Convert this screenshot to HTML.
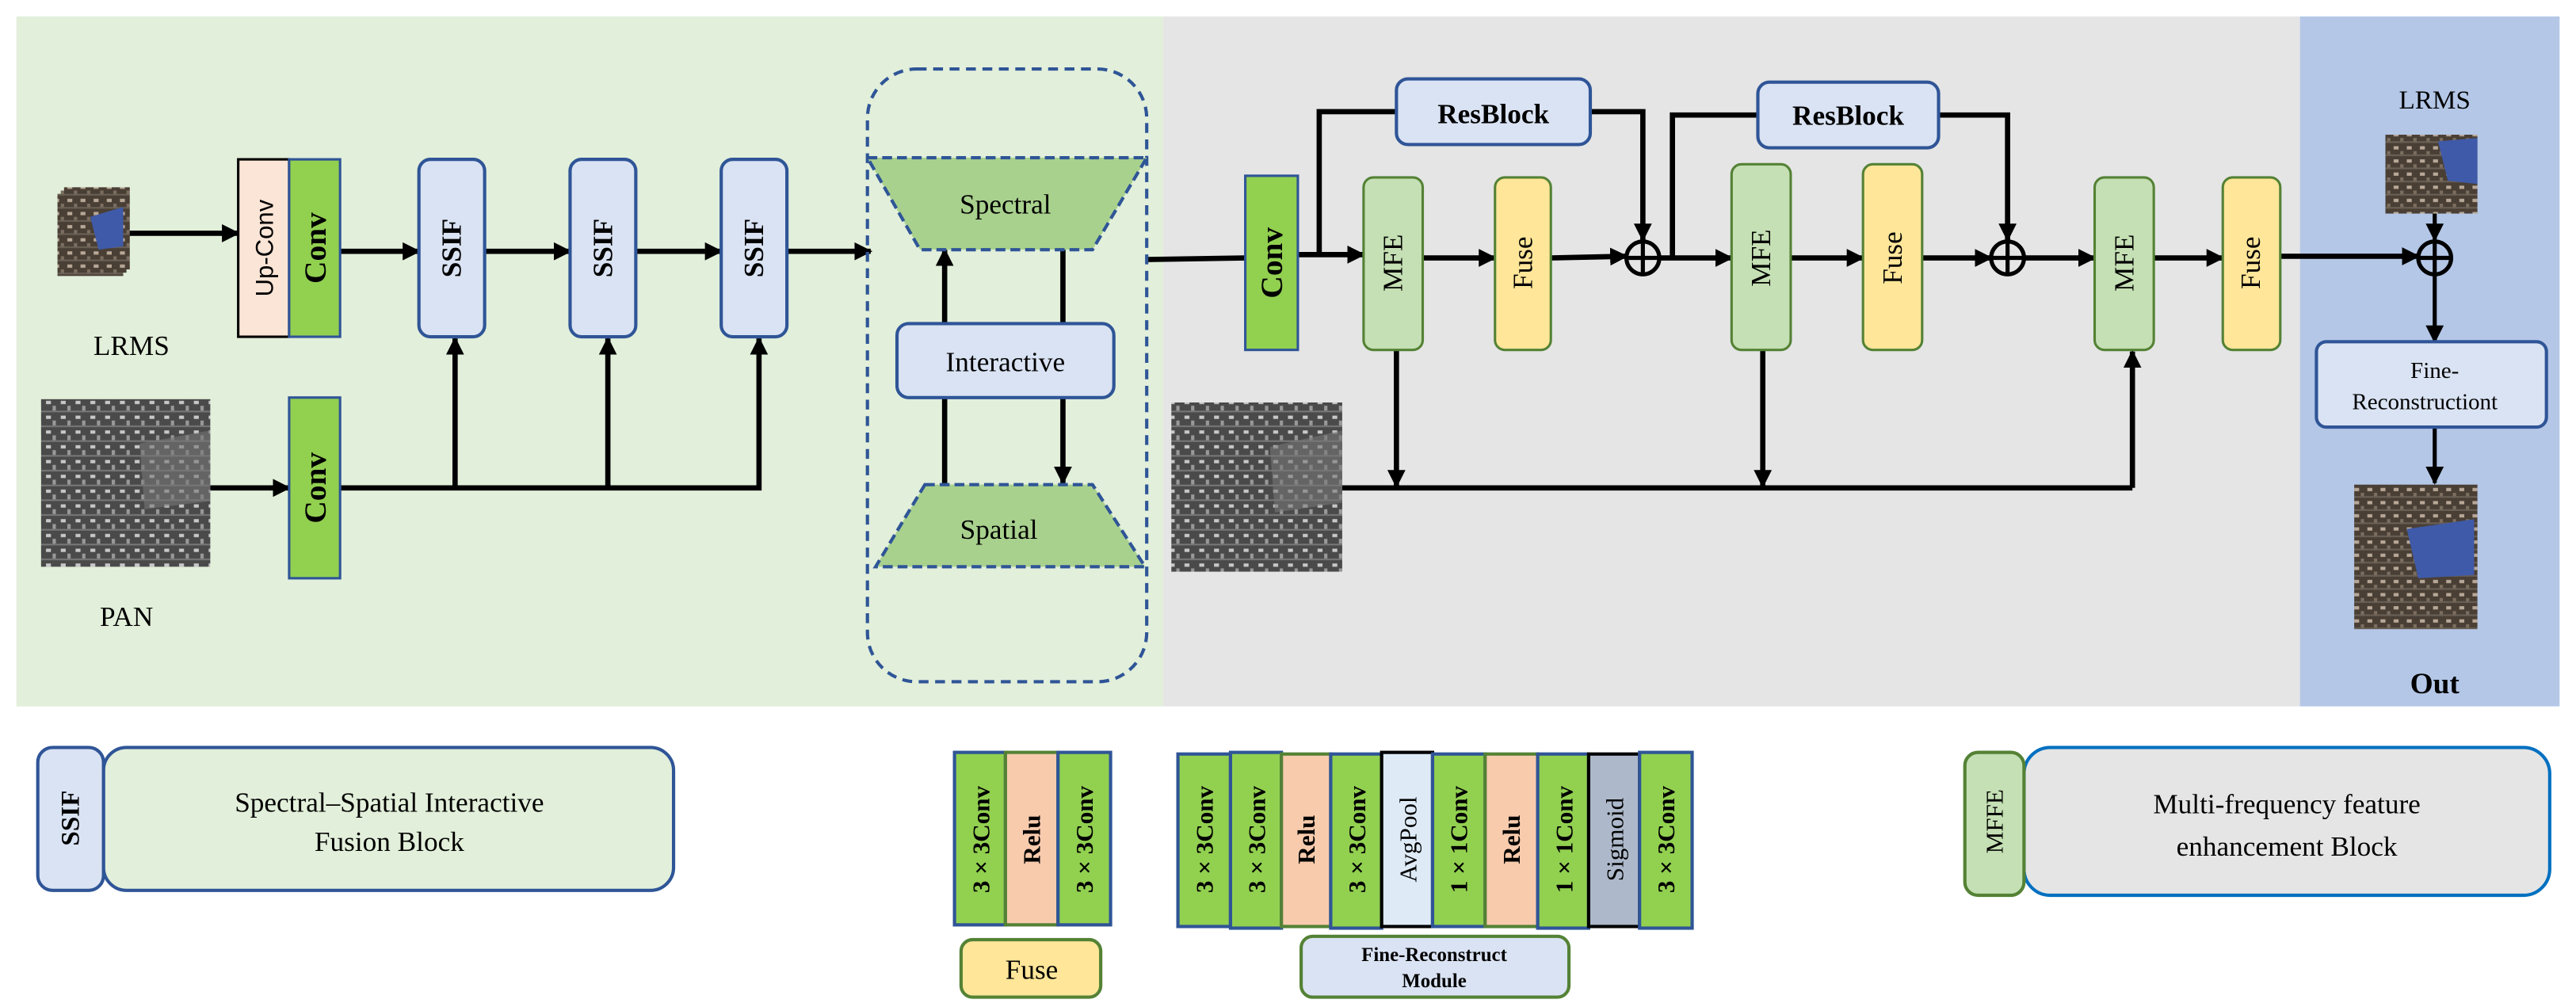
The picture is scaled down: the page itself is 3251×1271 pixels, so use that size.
<!DOCTYPE html>
<html><head><meta charset="utf-8"><style>
html,body{margin:0;padding:0;background:#fff;width:3251px;height:1271px;overflow:hidden}
svg{display:block}
text{font-family:"Liberation Serif",serif;fill:#000}
</style></head><body>
<svg width="3251" height="1271" viewBox="0 0 1568 613" preserveAspectRatio="none" xmlns="http://www.w3.org/2000/svg">
<defs>
<marker id="a" viewBox="0 0 10 10" refX="9" refY="5" markerWidth="11" markerHeight="11" markerUnits="userSpaceOnUse" orient="auto"><path d="M0,0L10,5L0,10z" fill="#000"/></marker>
<pattern id="gray" width="9" height="9" patternUnits="userSpaceOnUse"><rect width="9" height="9" fill="#4a4a4a"/><rect x="1" y="1" width="3" height="2" fill="#c8c8c8"/><rect x="5" y="4" width="2" height="3" fill="#999"/><rect x="0" y="7" width="9" height="1" fill="#777"/></pattern>
<pattern id="col" width="8" height="8" patternUnits="userSpaceOnUse"><rect width="8" height="8" fill="#4a3f35"/><rect x="1" y="1" width="3" height="2" fill="#b8a898"/><rect x="5" y="4" width="2" height="3" fill="#7d6f60"/><rect x="0" y="6" width="8" height="1" fill="#6a6055"/></pattern>
</defs>
<rect x="10" y="10" width="698" height="420" fill="#e2efda"/>
<rect x="708" y="10" width="692" height="420" fill="#e5e5e5"/>
<rect x="1400" y="10" width="158" height="420" fill="#b4c7e7"/>

<g stroke="#000" stroke-width="3.2" fill="none">
<line x1="75" y1="142" x2="145" y2="142" marker-end="url(#a)"/>
<line x1="207" y1="153" x2="255" y2="153" marker-end="url(#a)"/>
<line x1="295" y1="153" x2="347" y2="153" marker-end="url(#a)"/>
<line x1="387" y1="153" x2="439" y2="153" marker-end="url(#a)"/>
<line x1="479" y1="153" x2="530" y2="153" marker-end="url(#a)"/>
<line x1="128" y1="297" x2="176" y2="297" marker-end="url(#a)"/>
<polyline points="207,297 462,297 462,206" marker-end="url(#a)"/>
<line x1="277" y1="297" x2="277" y2="206" marker-end="url(#a)"/>
<line x1="370" y1="297" x2="370" y2="206" marker-end="url(#a)"/>
<line x1="575" y1="197" x2="575" y2="152" marker-end="url(#a)"/>
<line x1="647" y1="152" x2="647" y2="197"/>
<line x1="575" y1="242" x2="575" y2="295"/>
<line x1="647" y1="242" x2="647" y2="294" marker-end="url(#a)"/>
<line x1="698" y1="158" x2="758" y2="157"/>
<line x1="790" y1="155" x2="830" y2="155" marker-end="url(#a)"/>
<polyline points="803,155 803,68 850,68"/>
<polyline points="968,68 1000,68 1000,146" marker-end="url(#a)"/>
<line x1="866" y1="157" x2="910" y2="157" marker-end="url(#a)"/>
<line x1="944" y1="157" x2="990" y2="156" marker-end="url(#a)"/>
<line x1="1010" y1="157" x2="1054" y2="157" marker-end="url(#a)"/>
<polyline points="1018,157 1018,70 1070,70"/>
<polyline points="1180,70 1222,70 1222,146" marker-end="url(#a)"/>
<line x1="1090" y1="157" x2="1134" y2="157" marker-end="url(#a)"/>
<line x1="1170" y1="157" x2="1212" y2="157" marker-end="url(#a)"/>
<line x1="1232" y1="157" x2="1275" y2="157" marker-end="url(#a)"/>
<line x1="1311" y1="157" x2="1353" y2="157" marker-end="url(#a)"/>
<line x1="1388" y1="156" x2="1472" y2="156" marker-end="url(#a)"/>
<line x1="817" y1="297" x2="1298" y2="297"/>
<line x1="1298" y1="297" x2="1298" y2="214" marker-end="url(#a)"/>
<line x1="850" y1="213" x2="850" y2="296" marker-end="url(#a)"/>
<line x1="1073" y1="213" x2="1073" y2="296" marker-end="url(#a)"/>
<line x1="1482" y1="130" x2="1482" y2="146" stroke-width="2.5" marker-end="url(#a)"/>
<line x1="1482" y1="167" x2="1482" y2="208" stroke-width="2.5" marker-end="url(#a)"/>
<line x1="1482" y1="260" x2="1482" y2="294" stroke-width="2.5" marker-end="url(#a)"/>
</g>
<g stroke="#000" stroke-width="2.5" fill="none">
<circle cx="1000" cy="157" r="10"/><line x1="990" y1="157" x2="1010" y2="157"/><line x1="1000" y1="147" x2="1000" y2="167"/>
<circle cx="1222" cy="157" r="10"/><line x1="1212" y1="157" x2="1232" y2="157"/><line x1="1222" y1="147" x2="1222" y2="167"/>
<circle cx="1482" cy="157" r="10"/><line x1="1472" y1="157" x2="1492" y2="157"/><line x1="1482" y1="147" x2="1482" y2="167"/>
</g>

<rect x="39" y="114" width="40" height="50" fill="url(#col)"/>
<rect x="37" y="116" width="40" height="50" fill="url(#col)"/>
<rect x="35" y="118" width="40" height="50" fill="url(#col)"/>
<path d="M55,132 L75,126 L75,150 L60,152 Z" fill="#3f5aa8"/>
<rect x="25" y="243" width="103" height="102" fill="url(#gray)"/>
<path d="M85,270 L128,262 L128,305 L88,310 Z" fill="#777" opacity="0.6"/>
<rect x="713" y="245" width="104" height="103" fill="url(#gray)"/>
<path d="M773,272 L817,262 L817,306 L776,312 Z" fill="#777" opacity="0.6"/>
<rect x="1452" y="82" width="56" height="48" fill="url(#col)"/>
<path d="M1484,86 L1508,84 L1508,112 L1490,110 Z" fill="#3f5aa8"/>
<rect x="1433" y="295" width="75" height="88" fill="url(#col)"/>
<path d="M1465,322 L1506,316 L1506,350 L1472,352 Z" fill="#3f5aa8"/>

<rect x="145" y="97" width="31" height="108" fill="#fbe5d6" stroke="#000" stroke-width="1.5"/>
<text transform="translate(161,151) rotate(-90)" text-anchor="middle" dominant-baseline="central" font-size="15" style="font-family:'Liberation Sans',sans-serif">Up-Conv</text>
<rect x="176" y="97" width="31" height="108" fill="#92d050" stroke="#2f5597" stroke-width="1.5"/>
<text transform="translate(192,151) rotate(-90)" text-anchor="middle" dominant-baseline="central" font-size="19" font-weight="bold">Conv</text>
<rect x="176" y="242" width="31" height="110" fill="#92d050" stroke="#2f5597" stroke-width="1.5"/>
<text transform="translate(192,297) rotate(-90)" text-anchor="middle" dominant-baseline="central" font-size="19" font-weight="bold">Conv</text>
<g fill="#dae3f3" stroke="#2f5597" stroke-width="2">
<rect x="255" y="97" width="40" height="108" rx="7"/>
<rect x="347" y="97" width="40" height="108" rx="7"/>
<rect x="439" y="97" width="40" height="108" rx="7"/>
</g>
<text transform="translate(275,151) rotate(-90)" text-anchor="middle" dominant-baseline="central" font-size="17" font-weight="bold">SSIF</text>
<text transform="translate(367,151) rotate(-90)" text-anchor="middle" dominant-baseline="central" font-size="17" font-weight="bold">SSIF</text>
<text transform="translate(459,151) rotate(-90)" text-anchor="middle" dominant-baseline="central" font-size="17" font-weight="bold">SSIF</text>
<text x="80" y="216" text-anchor="middle" font-size="17">LRMS</text>
<text x="77" y="381" text-anchor="middle" font-size="17">PAN</text>

<rect x="528" y="42" width="170" height="373" rx="30" fill="none" stroke="#2f5597" stroke-width="2" stroke-dasharray="6,4"/>
<path d="M528,96 L698,96 L665,152 L560,152 Z" fill="#a9d18e" stroke="#2f5597" stroke-width="2" stroke-dasharray="6,3"/>
<text x="612" y="130" text-anchor="middle" font-size="17">Spectral</text>
<path d="M563,295 L665,295 L697,345 L533,345 Z" fill="#a9d18e" stroke="#2f5597" stroke-width="2" stroke-dasharray="6,3"/>
<text x="608" y="328" text-anchor="middle" font-size="17">Spatial</text>
<rect x="546" y="197" width="132" height="45" rx="7" fill="#dae3f3" stroke="#2f5597" stroke-width="2"/>
<text x="612" y="226" text-anchor="middle" font-size="17">Interactive</text>

<rect x="758" y="107" width="32" height="106" fill="#92d050" stroke="#2f5597" stroke-width="1.5"/>
<text transform="translate(774,160) rotate(-90)" text-anchor="middle" dominant-baseline="central" font-size="19" font-weight="bold">Conv</text>
<g stroke="#548235" stroke-width="1.5">
<rect x="830" y="108" width="36" height="105" rx="6" fill="#c5e0b4"/>
<rect x="910" y="108" width="34" height="105" rx="6" fill="#ffe699"/>
<rect x="1054" y="100" width="36" height="113" rx="6" fill="#c5e0b4"/>
<rect x="1134" y="100" width="36" height="113" rx="6" fill="#ffe699"/>
<rect x="1275" y="108" width="36" height="105" rx="6" fill="#c5e0b4"/>
<rect x="1353" y="108" width="35" height="105" rx="6" fill="#ffe699"/>
</g>
<g font-size="17" text-anchor="middle" dominant-baseline="central">
<text transform="translate(848,160) rotate(-90)">MFE</text>
<text transform="translate(927,160) rotate(-90)">Fuse</text>
<text transform="translate(1072,157) rotate(-90)">MFE</text>
<text transform="translate(1152,157) rotate(-90)">Fuse</text>
<text transform="translate(1293,160) rotate(-90)">MFE</text>
<text transform="translate(1370,160) rotate(-90)">Fuse</text>
</g>
<g fill="#dae3f3" stroke="#2f5597" stroke-width="2">
<rect x="850" y="48" width="118" height="40" rx="7"/>
<rect x="1070" y="50" width="110" height="40" rx="7"/>
</g>
<text x="909" y="75" text-anchor="middle" font-size="17" font-weight="bold">ResBlock</text>
<text x="1125" y="76" text-anchor="middle" font-size="17" font-weight="bold">ResBlock</text>
<text x="1482" y="66" text-anchor="middle" font-size="16">LRMS</text>
<rect x="1410" y="208" width="140" height="52" rx="6" fill="#dae3f3" stroke="#2f5597" stroke-width="2"/>
<text x="1482" y="230" text-anchor="middle" font-size="14">Fine-</text>
<text x="1476" y="249" text-anchor="middle" font-size="14">Reconstructiont</text>
<text x="1482" y="422" text-anchor="middle" font-size="18" font-weight="bold">Out</text>

<rect x="63" y="455" width="347" height="87" rx="14" fill="#e2efda" stroke="#2f5597" stroke-width="2"/>
<rect x="23" y="455" width="40" height="87" rx="9" fill="#dae3f3" stroke="#2f5597" stroke-width="2"/>
<text transform="translate(43,498) rotate(-90)" text-anchor="middle" dominant-baseline="central" font-size="16" font-weight="bold">SSIF</text>
<text x="237" y="494" text-anchor="middle" font-size="17">Spectral–Spatial Interactive</text>
<text x="237" y="518" text-anchor="middle" font-size="17">Fusion Block</text>

<rect x="1232" y="455" width="320" height="90" rx="16" fill="#e5e5e5" stroke="#0070c0" stroke-width="2"/>
<rect x="1196" y="458" width="36" height="87" rx="8" fill="#c5e0b4" stroke="#548235" stroke-width="2"/>
<text transform="translate(1214,500) rotate(-90)" text-anchor="middle" dominant-baseline="central" font-size="15">MFFE</text>
<text x="1392" y="495" text-anchor="middle" font-size="17">Multi-frequency feature</text>
<text x="1392" y="521" text-anchor="middle" font-size="17">enhancement Block</text>

<g stroke-width="2">
<rect x="581" y="458" width="31" height="105" fill="#92d050" stroke="#2f5597"/>
<rect x="612" y="458" width="32" height="105" fill="#f8cbad" stroke="#548235"/>
<rect x="644" y="458" width="32" height="105" fill="#92d050" stroke="#2f5597"/>
</g>
<g font-size="15" font-weight="bold" text-anchor="middle" dominant-baseline="central">
<text transform="translate(597,511) rotate(-90)">3 × 3Conv</text>
<text transform="translate(628,511) rotate(-90)">Relu</text>
<text transform="translate(660,511) rotate(-90)">3 × 3Conv</text>
</g>
<rect x="585" y="572" width="85" height="35" rx="7" fill="#ffe699" stroke="#548235" stroke-width="2"/>
<text x="628" y="596" text-anchor="middle" font-size="17">Fuse</text>

<g stroke-width="2">
<rect x="717" y="459" width="32" height="105" fill="#92d050" stroke="#2f5597"/>
<rect x="749" y="458" width="31" height="107" fill="#92d050" stroke="#2f5597"/>
<rect x="780" y="459" width="30" height="105" fill="#f8cbad" stroke="#548235"/>
<rect x="810" y="459" width="31" height="106" fill="#92d050" stroke="#2f5597"/>
<rect x="841" y="458" width="31" height="106" fill="#deebf7" stroke="#000"/>
<rect x="872" y="459" width="32" height="105" fill="#92d050" stroke="#2f5597"/>
<rect x="904" y="459" width="32" height="105" fill="#f8cbad" stroke="#548235"/>
<rect x="936" y="459" width="31" height="106" fill="#92d050" stroke="#2f5597"/>
<rect x="967" y="459" width="31" height="105" fill="#adb9ca" stroke="#000"/>
<rect x="998" y="458" width="32" height="107" fill="#92d050" stroke="#2f5597"/>
</g>
<g font-size="15" font-weight="bold" text-anchor="middle" dominant-baseline="central">
<text transform="translate(733,511) rotate(-90)">3 × 3Conv</text>
<text transform="translate(765,511) rotate(-90)">3 × 3Conv</text>
<text transform="translate(795,511) rotate(-90)">Relu</text>
<text transform="translate(826,511) rotate(-90)">3 × 3Conv</text>
<text transform="translate(857,511) rotate(-90)" font-weight="normal">AvgPool</text>
<text transform="translate(888,511) rotate(-90)">1 × 1Conv</text>
<text transform="translate(920,511) rotate(-90)">Relu</text>
<text transform="translate(952,511) rotate(-90)">1 × 1Conv</text>
<text transform="translate(983,511) rotate(-90)" font-weight="normal">Sigmoid</text>
<text transform="translate(1014,511) rotate(-90)">3 × 3Conv</text>
</g>
<rect x="792" y="570" width="163" height="37" rx="7" fill="#dae3f3" stroke="#548235" stroke-width="2"/>
<text x="873" y="585" text-anchor="middle" font-size="12" font-weight="bold">Fine-Reconstruct</text>
<text x="873" y="601" text-anchor="middle" font-size="12" font-weight="bold">Module</text>
</svg>
</body></html>
